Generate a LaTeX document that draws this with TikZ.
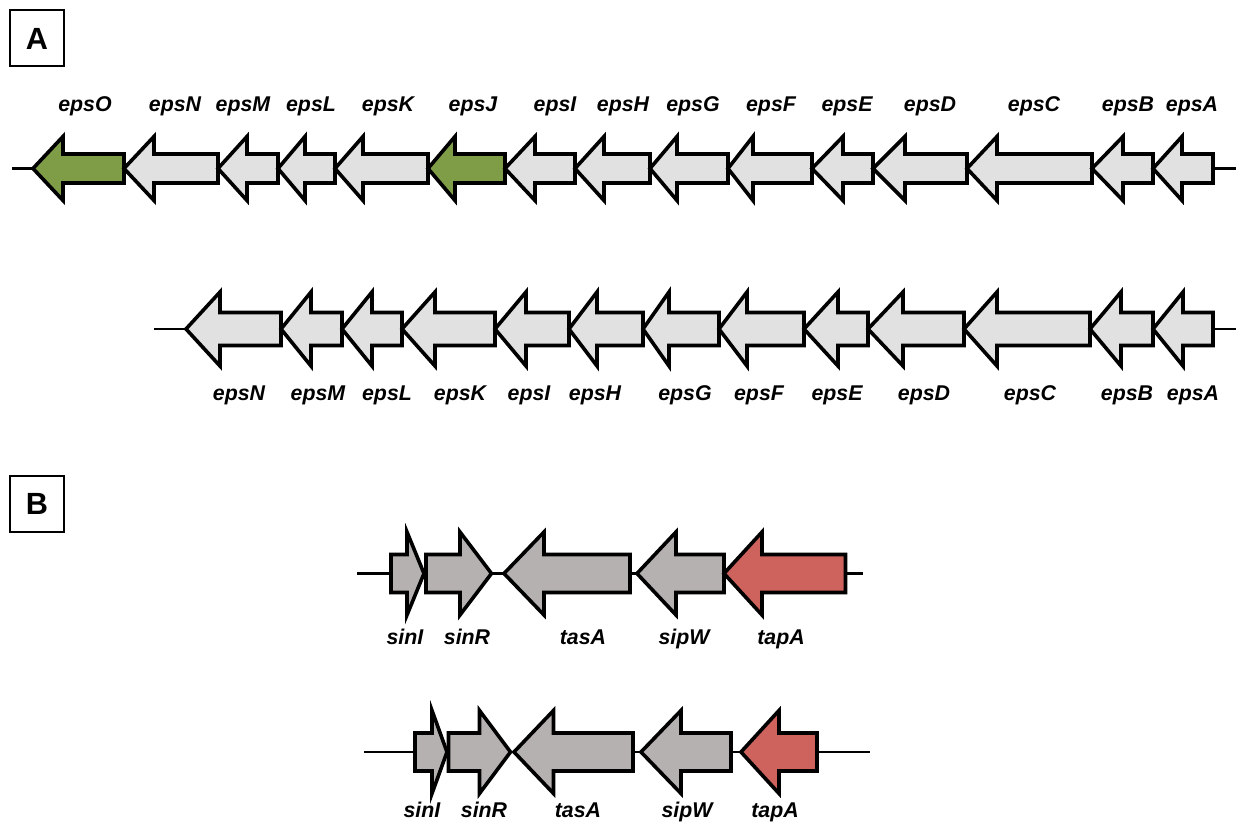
\documentclass[tikz,border=0pt]{standalone}
\usepackage{fontspec}
\setmainfont{Liberation Sans}
\definecolor{lgray}{HTML}{E1E1E1}
\definecolor{mgray}{HTML}{B5B1B0}
\definecolor{ggreen}{HTML}{7F9C47}
\definecolor{rred}{HTML}{CE625C}
% left-pointing gene: [style]{tip}{headbase}{right}{cy}{bodyhalf}{headhalf}
\newcommand\genel[7][]{\draw[gene,#1] (#2,#5) -- (#3,#5-#7) -- (#3,#5-#6) -- (#4,#5-#6) -- (#4,#5+#6) -- (#3,#5+#6) -- (#3,#5+#7) -- cycle;}
% right-pointing gene: [style]{left}{headbase}{tip}{cy}{bodyhalf}{headhalf}
\newcommand\gener[7][]{\draw[gene,#1] (#2,#5-#6) -- (#3,#5-#6) -- (#3,#5-#7) -- (#4,#5) -- (#3,#5+#7) -- (#3,#5+#6) -- (#2,#5+#6) -- cycle;}
\begin{document}
\begin{tikzpicture}[x=0.75pt,y=-0.75pt,
  gene/.style={draw=black,line width=2.7pt,line join=miter,fill=lgray},
  bgene/.style={fill=mgray},
  dna/.style={draw=black,line width=1.8pt},
  lab/.style={font=\fontsize{16}{16}\selectfont\bfseries\itshape,anchor=base,inner sep=0pt},
  panel/.style={draw=black,line width=1.5pt,minimum width=40.5pt,minimum height=42pt,inner sep=0pt,font=\fontsize{23}{23}\selectfont\bfseries}]
\clip (0,0) rectangle (1236,823);
\fill[white] (0,0) rectangle (1236,823);

% panel labels
\node[panel] (pA) at (37,38.5) {A};
\node[panel] (pB) at (37,504) {B};

% ---------- Panel A, row 1 ----------
\coordinate (a1s) at (12,168.5);
\coordinate (a1e) at (1236,168.5);
\draw[dna] (a1s) -- (a1e);
\genel[fill=ggreen]{33}{63}{124}{168.5}{14.5}{32}
\genel{124}{154}{218}{168.5}{14.5}{32}
\genel{218}{247}{278}{168.5}{14.5}{32}
\genel{278}{305}{335}{168.5}{14.5}{32}
\genel{335}{363}{428}{168.5}{14.5}{32}
\genel[fill=ggreen]{428}{455}{505}{168.5}{14.5}{32}
\genel{505}{535}{575}{168.5}{14.5}{32}
\genel{575}{604}{650}{168.5}{14.5}{32}
\genel{650}{677}{728}{168.5}{14.5}{32}
\genel{728}{753}{812}{168.5}{14.5}{32}
\genel{812}{843}{873}{168.5}{14.5}{32}
\genel{873}{905}{967}{168.5}{14.5}{32}
\genel{967}{997}{1092}{168.5}{14.5}{32}
\genel{1092}{1123}{1153}{168.5}{14.5}{32}
\genel{1153}{1182}{1213}{168.5}{14.5}{32}

\node[lab] (l1O) at (85,112) {epsO};
\node[lab] (l1N) at (175,112) {epsN};
\node[lab] (l1M) at (243,112) {epsM};
\node[lab] (l1L) at (311,112) {epsL};
\node[lab] (l1K) at (388,112) {epsK};
\node[lab] (l1J) at (473,112) {epsJ};
\node[lab] (l1I) at (555,112) {epsI};
\node[lab] (l1H) at (623,112) {epsH};
\node[lab] (l1G) at (693,112) {epsG};
\node[lab] (l1F) at (771,112) {epsF};
\node[lab] (l1E) at (847,112) {epsE};
\node[lab] (l1D) at (930,112) {epsD};
\node[lab] (l1C) at (1034,112) {epsC};
\node[lab] (l1B) at (1128,112) {epsB};
\node[lab] (l1A) at (1192,112) {epsA};

% ---------- Panel A, row 2 ----------
\coordinate (a2s) at (154,329);
\coordinate (a2e) at (1236,329);
\draw[dna] (a2s) -- (a2e);
\genel{186}{220}{281}{329}{16.5}{37}
\genel{281}{311}{342}{329}{16.5}{37}
\genel{342}{372}{402}{329}{16.5}{37}
\genel{402}{435}{495}{329}{16.5}{37}
\genel{495}{526}{569}{329}{16.5}{37}
\genel{569}{597}{643}{329}{16.5}{37}
\genel{643}{669}{719}{329}{16.5}{37}
\genel{719}{747}{804}{329}{16.5}{37}
\genel{804}{838}{868}{329}{16.5}{37}
\genel{868}{903}{964}{329}{16.5}{37}
\genel{964}{997}{1090}{329}{16.5}{37}
\genel{1090}{1121}{1153}{329}{16.5}{37}
\genel{1153}{1183}{1213}{329}{16.5}{37}

\node[lab] (l2N) at (239,401) {epsN};
\node[lab] (l2M) at (318,401) {epsM};
\node[lab] (l2L) at (387,401) {epsL};
\node[lab] (l2K) at (460,401) {epsK};
\node[lab] (l2I) at (529,401) {epsI};
\node[lab] (l2H) at (595,401) {epsH};
\node[lab] (l2G) at (685,401) {epsG};
\node[lab] (l2F) at (759,401) {epsF};
\node[lab] (l2E) at (837,401) {epsE};
\node[lab] (l2D) at (924,401) {epsD};
\node[lab] (l2C) at (1030,401) {epsC};
\node[lab] (l2B) at (1127,401) {epsB};
\node[lab] (l2A) at (1193,401) {epsA};

% ---------- Panel B, row 1 ----------
\coordinate (b1s) at (357,573.5);
\coordinate (b1e) at (863,573.5);
\draw[dna] (b1s) -- (b1e);
\gener[bgene]{391}{407}{424}{573.5}{19}{41.5}
\gener[bgene]{426}{460}{491.5}{573.5}{19}{41.5}
\genel[bgene]{504}{544}{630}{573.5}{19}{41.5}
\genel[bgene]{637}{676}{724}{573.5}{19}{41.5}
\genel[fill=rred]{724}{762}{845.5}{573.5}{19}{41.5}

\node[lab] (m1a) at (405,644) {sinI};
\node[lab] (m1b) at (467,644) {sinR};
\node[lab] (m1c) at (583,644) {tasA};
\node[lab] (m1d) at (684,644) {sipW};
\node[lab] (m1e) at (781,644) {tapA};

% ---------- Panel B, row 2 ----------
\coordinate (b2s) at (364,752);
\coordinate (b2e) at (870,752);
\draw[dna] (b2s) -- (b2e);
\gener[bgene]{415}{432}{447}{752}{19}{41.5}
\gener[bgene]{448.5}{479.5}{510.5}{752}{19}{41.5}
\genel[bgene]{514}{553.5}{633}{752}{19}{41.5}
\genel[bgene]{641}{681}{731}{752}{19}{41.5}
\genel[fill=rred]{741}{779}{817}{752}{19}{41.5}

\node[lab] (m2a) at (422,817) {sinI};
\node[lab] (m2b) at (484,817) {sinR};
\node[lab] (m2c) at (578,817) {tasA};
\node[lab] (m2d) at (687,817) {sipW};
\node[lab] (m2e) at (775,817) {tapA};
\end{tikzpicture}
\end{document}
